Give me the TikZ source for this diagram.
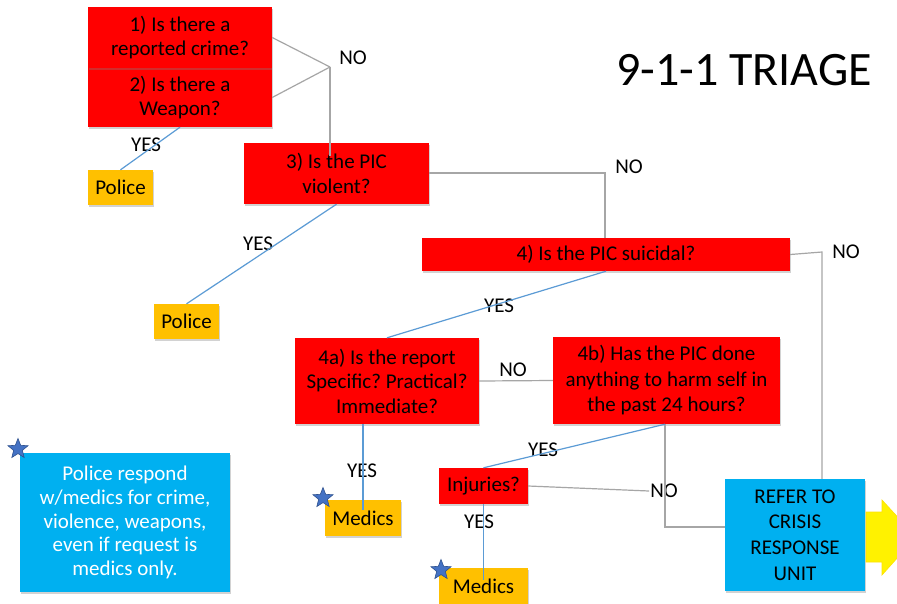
\documentclass[tikz,border=0pt]{standalone}
\usepackage{fontspec}
\setmainfont{Carlito}
\usetikzlibrary{shapes.geometric,shadows}
\definecolor{qred}{HTML}{FF0000}
\definecolor{qorange}{HTML}{FFC000}
\definecolor{qblue}{HTML}{00B0F0}
\definecolor{qgray}{HTML}{A6A6A6}
\definecolor{qline}{HTML}{5B9BD5}
\definecolor{qstar}{HTML}{4472C4}
\definecolor{qstarb}{HTML}{2F528F}
\frenchspacing
\begin{document}
\begin{tikzpicture}[x=1pt,y=-1pt,
  shad/.style={drop shadow={opacity=0.35,shadow xshift=1.2pt,shadow yshift=-1.5pt}},
  qbox/.style={shad,fill=qred,text=black,align=center,inner sep=0pt,font=\fontsize{21}{24.5}\selectfont},
  obox/.style={shad,fill=qorange,text=black,align=center,inner sep=0pt,font=\fontsize{21}{24.5}\selectfont},
  bbox/.style={shad,fill=qblue,align=center,inner sep=0pt},
  lbl/.style={font=\fontsize{21}{24}\selectfont,inner sep=1pt},
  gline/.style={draw=qgray,line width=1.2pt},
  yline/.style={draw=qline,line width=1.2pt},
  qstarshape/.style={star,star points=5,star point ratio=2.3,fill=qstar,draw=qstarb,line width=0.6pt,inner sep=0pt,minimum size=21pt}
]
\useasboundingbox (0,0) rectangle (897,603);
\clip (0,0) rectangle (897,603);
\fill[white] (0,0) rectangle (897,603);

% title
\node[font=\fontsize{48}{52}\selectfont,inner sep=0pt] (title) at (744,70) {9-1-1 TRIAGE};

% boxes
\node[qbox,minimum width=184pt,minimum height=59pt] (b2) at (180,97.5) {2) Is there a\\Weapon?};
\node[qbox,minimum width=184pt,minimum height=61pt] (b1) at (180,37.5) {1) Is there a\\reported crime?};
\node[obox,minimum width=65pt,minimum height=35pt] (p1) at (120.5,187.5) {Police};
\node[qbox,minimum width=185pt,minimum height=61pt] (b3) at (336.5,173.5) {3) Is the PIC\\violent?};
\node[obox,minimum width=65pt,minimum height=35pt] (p2) at (186.5,321.5) {Police};
\node[qbox,minimum width=368pt,minimum height=33pt] (b4) at (606,254.5) {4) Is the PIC suicidal?};
\node[qbox,minimum width=184pt,minimum height=86pt] (b4a) at (387,381) {4a) Is the report\\Specific? Practical?\\Immediate?};
\node[qbox,minimum width=227pt,minimum height=87pt,font=\fontsize{21}{25.5}\selectfont] (b4b) at (666.5,380.5) {4b) Has the PIC done\\anything to harm self in\\the past 24 hours?};
\node[qbox,minimum width=89pt,minimum height=36pt] (inj) at (483.5,486) {Injuries?};
\node[obox,minimum width=76pt,minimum height=36pt] (m1) at (363,518) {Medics};
\node[obox,minimum width=89pt,minimum height=36pt] (m2) at (483.5,586) {Medics};
\node[bbox,minimum width=140pt,minimum height=112pt,text=black,font=\fontsize{21}{25.7}\selectfont] (refer) at (795,535) {REFER TO\\CRISIS\\RESPONSE\\UNIT};
\node[bbox,minimum width=210pt,minimum height=139pt,text=white,font=\fontsize{21}{23.7}\selectfont] (note) at (125,522.5) {Police respond\\w/medics for crime,\\violence, weapons,\\even if request is\\medics only.};

% yellow arrow
\fill[yellow,draw=yellow!85!orange,line width=0.6pt] (866,512) -- (882,512) -- (882,500) -- (916,537) -- (882,575) -- (882,562) -- (866,562) -- cycle;

% labels
\node[lbl] (no1) at (353,58) {NO};
\node[lbl] (yes1) at (146,145) {YES};
\node[lbl] (no2) at (629,167) {NO};
\node[lbl] (yes2) at (258,244) {YES};
\node[lbl] (no3) at (846,252) {NO};
\node[lbl] (yes3) at (499,306) {YES};
\node[lbl] (no4) at (513,370) {NO};
\node[lbl] (yes4) at (362,471) {YES};
\node[lbl] (yes5) at (543,450) {YES};
\node[lbl] (no5) at (664,491) {NO};
\node[lbl] (yes6) at (479,522) {YES};

% junction coordinates
\coordinate (j1) at (330,67);
\coordinate (j1e) at (330,156);
\coordinate (j2) at (605,173);
\coordinate (j3) at (822,252);
\coordinate (j5) at (665,527);

% gray connectors
\draw[gline] (b1.east) -- (j1);
\draw[gline] (b2.east) -- (j1);
\draw[gline] (j1) -- (j1e);
\draw[gline] (b3.east |- j2) -- (j2) -- (j2 |- b4.north);
\draw[gline] (b4.east) -- (j3) -- (j3 |- refer.north);
\draw[gline] (b4a.east) -- (b4b.west);
\draw[gline] (b4b.south -| j5) -- (j5) -- (refer.west |- j5);
\draw[gline] (inj.east) -- (no5.west);

% blue connectors
\draw[yline] (b2.south) -- (p1.north);
\draw[yline] (b3.south) -- (p2.north);
\draw[yline] (b4.south) -- (b4a.north);
\draw[yline] (b4a.south -| m1.north) -- ([yshift=-10pt]m1.north);
\draw[yline] (b4b.south -| j5) -- (inj.north);
\draw[yline] (inj.south) -- ([yshift=-12pt]m2.north);

% stars
\node[qstarshape] (s1) at (18,449) {};
\node[qstarshape] (s2) at (323,498) {};
\node[qstarshape] (s3) at (441,570) {};
\end{tikzpicture}
\end{document}
